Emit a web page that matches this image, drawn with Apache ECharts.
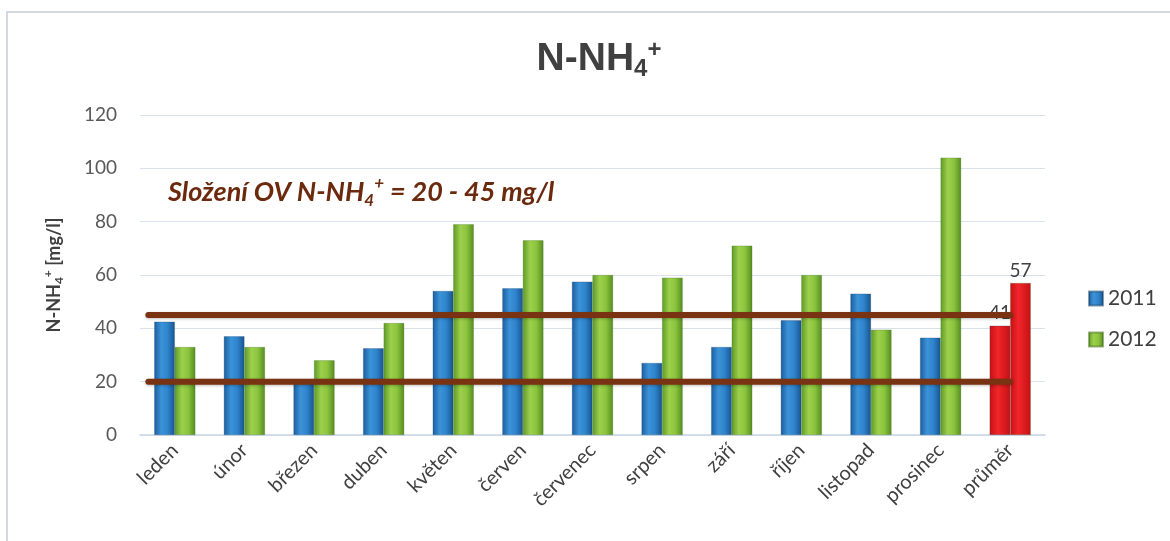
<!DOCTYPE html>
<html>
<head>
<meta charset="utf-8">
<script src="https://cdn.jsdelivr.net/npm/echarts@6/dist/echarts.min.js"></script>
<style>
html,body{margin:0;padding:0;background:#fff;}
#chart{width:1170px;height:541px;}
</style>
</head>
<body>
<div id="chart"></div>
<script>
const categories = ['leden','únor','březen','duben','květen','červen','červenec','srpen','září','říjen','listopad','prosinec','průměr'];
const values2011 = [42.5, 37, 19.5, 32.5, 54, 55, 57.5, 27, 33, 43, 53, 36.5, 41];
const values2012 = [33, 33, 28, 42, 79, 73, 60, 59, 71, 60, 39.5, 104, 57];
const yTicks = [0, 20, 40, 60, 80, 100, 120];
const limitValues = [20, 45];
const limitSpan = [-0.38, 12];
const averageIndex = 12;

const chart = echarts.init(document.getElementById('chart'));
const blueGrad = new echarts.graphic.LinearGradient(0,0,1,0,[
  {offset:0,color:'#1b5e9e'},{offset:0.35,color:'#3c93d8'},{offset:0.65,color:'#2f84cc'},{offset:1,color:'#17548e'}]);
const greenGrad = new echarts.graphic.LinearGradient(0,0,1,0,[
  {offset:0,color:'#5e9a26'},{offset:0.35,color:'#9dd04c'},{offset:0.65,color:'#8cc43e'},{offset:1,color:'#558c20'}]);
const redGrad = new echarts.graphic.LinearGradient(0,0,1,0,[
  {offset:0,color:'#c81015'},{offset:0.4,color:'#f0262a'},{offset:1,color:'#c51014'}]);
const labelStyle = {show:true, position:'top', color:'#404040', fontSize:19, fontFamily:'Lato', distance:3};
function mk(vals){
  return vals.map((v,i)=> i===averageIndex ? {value:v, itemStyle:{color:redGrad}, label:labelStyle} : v);
}
const limitSeries = limitValues.map(v => ({
  type:'line', xAxisIndex:1, yAxisIndex:0, symbol:'none', silent:true, z:5,
  data: limitSpan.map(x => [x, v]),
  lineStyle:{color:'#7a3312', width:6, cap:'round', shadowColor:'rgba(0,0,0,0.25)', shadowBlur:3, shadowOffsetY:1}
}));

chart.setOption({
  animation:false,
  backgroundColor:'#fff',
  textStyle:{fontFamily:'Lato'},
  title:[{
    text:'N-NH{sub|4}{sup|+}',
    left:594, top:32, textAlign:'center',
    textStyle:{fontFamily:'Liberation Sans', fontWeight:'bold', fontSize:39, color:'#404040',
      rich:{
        sub:{fontFamily:'Liberation Sans', fontWeight:'bold', fontSize:24, color:'#404040', padding:[20,0,0,0]},
        sup:{fontFamily:'Liberation Sans', fontWeight:'bold', fontSize:24, color:'#404040', padding:[0,0,18,0]}
      }}
  },{
    text:'Složení OV N-NH{sub|4}{sup|+} = 20 - 45 mg/l',
    left:163, top:170,
    textStyle:{fontFamily:'Lato', fontWeight:'bold', fontStyle:'italic', fontSize:27, color:'#6b2a0e',
      rich:{
        sub:{fontFamily:'Lato', fontWeight:'bold', fontStyle:'italic', fontSize:17, color:'#6b2a0e', padding:[16,0,0,0]},
        sup:{fontFamily:'Lato', fontWeight:'bold', fontStyle:'italic', fontSize:17, color:'#6b2a0e', padding:[0,0,18,0]}
      }}
  }],
  legend:{
    orient:'vertical', left:1083, top:283, itemGap:20, itemWidth:14, itemHeight:14,
    icon:'rect',
    textStyle:{fontFamily:'Lato', fontSize:21, color:'#404040'},
    data:['2011','2012']
  },
  grid:{left:140, right:125, top:115, bottom:106},
  xAxis:[{
    type:'category', data:categories,
    axisTick:{show:false},
    axisLine:{lineStyle:{color:'#c9d6e3', width:1.5}},
    axisLabel:{rotate:45, color:'#404040', fontFamily:'Lato', fontSize:20, margin:12, interval:0}
  },{
    type:'value', min:-0.5, max:12.5, show:false
  }],
  yAxis:[{
    type:'value', min:yTicks[0], max:yTicks[yTicks.length-1], interval:20,
    axisLine:{show:false}, axisTick:{show:false},
    splitLine:{lineStyle:{color:'#d8e2ec', width:1}},
    axisLabel:{color:'#595959', fontFamily:'Lato', fontSize:19, margin:23},
    name:'N-NH{sub|4}{sup|+} [mg/l]', nameLocation:'middle', nameGap:74, nameRotate:90,
    nameTextStyle:{color:'#404040', fontFamily:'Lato', fontSize:18, fontWeight:'bold',
      rich:{
        sub:{fontFamily:'Lato', fontSize:12, color:'#404040', fontWeight:'bold', padding:[10,0,0,0]},
        sup:{fontFamily:'Lato', fontSize:12, color:'#404040', fontWeight:'bold', padding:[0,0,12,0]}
      }}
  }],
  series:[{
    name:'2011', type:'bar', data:mk(values2011), barGap:'0%', barCategoryGap:'41%',
    itemStyle:{color:blueGrad, borderColor:'rgba(20,60,100,0.5)', borderWidth:0.5}
  },{
    name:'2012', type:'bar', data:mk(values2012), barGap:'0%', barCategoryGap:'41%',
    itemStyle:{color:greenGrad, borderColor:'rgba(60,100,20,0.5)', borderWidth:0.5}
  }].concat(limitSeries),
  graphic:[{
    type:'polyline', silent:true,
    shape:{points:[[7,541],[7,12],[1170,12]]},
    style:{stroke:'#d3d9df', lineWidth:2, fill:null}
  }]
});
</script>
</body>
</html>
